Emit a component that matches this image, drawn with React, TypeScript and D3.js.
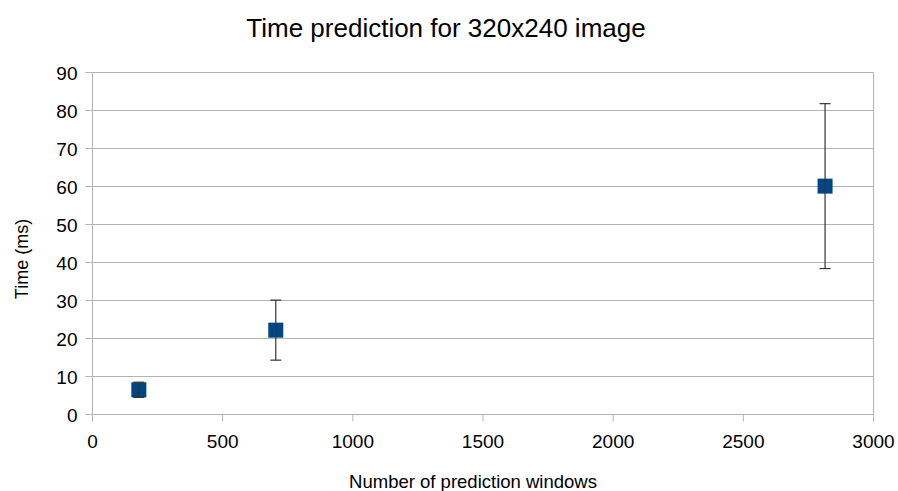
import React from "react";
import * as d3 from "d3";

const xValues = [178, 704, 2814];
const yValues = [6.5, 22.2, 60.1];
const yErrors = [2.0, 7.9, 21.7];
const xTicks = [0, 500, 1000, 1500, 2000, 2500, 3000];
const yTicks = [0, 10, 20, 30, 40, 50, 60, 70, 80, 90];

const W = 898, H = 491;
const left = 92.5, right = 873.5, top = 72.5, bottom = 414.5;

export default function App() {
  const x = d3.scaleLinear().domain([0, 3000]).range([left, right]);
  const y = d3.scaleLinear().domain([0, 90]).range([bottom, top]);
  const font = "'Liberation Sans', Arial, sans-serif";
  const ms = 15;
  return (
    <svg width={W} height={H} style={{ position: "absolute", left: 0, top: 0 }} fontFamily={font}>
      <rect width={W} height={H} fill="#fff" />
      <text x={446} y={36.5} textAnchor="middle" fontSize={26} fill="#000">Time prediction for 320x240 image</text>
      {yTicks.map((t) => (
        <g key={"y" + t}>
          <line x1={left - 7} x2={right} y1={y(t)} y2={y(t)} stroke="#b3b3b3" strokeWidth={1} />
          <text x={77.5} y={y(t) + 7} textAnchor="end" fontSize={19} fill="#000">{t}</text>
        </g>
      ))}
      {xTicks.map((t) => (
        <g key={"x" + t}>
          <line x1={x(t)} x2={x(t)} y1={bottom} y2={bottom + 7} stroke="#b3b3b3" strokeWidth={1} />
          <text x={x(t)} y={447.5} textAnchor="middle" fontSize={19} fill="#000">{t}</text>
        </g>
      ))}
      <line x1={left} x2={left} y1={top} y2={bottom + 7} stroke="#b3b3b3" strokeWidth={1} />
      <line x1={right} x2={right} y1={top} y2={bottom + 7} stroke="#b3b3b3" strokeWidth={1} />
      <text x={473} y={488} textAnchor="middle" fontSize={18.5} fill="#000">Number of prediction windows</text>
      <text transform={`translate(28,${259}) rotate(-90)`} textAnchor="middle" fontSize={18} fill="#000">Time (ms)</text>
      {xValues.map((xv, i) => (
        <g key={"p" + i}>
          <rect x={x(xv) - ms / 2} y={y(yValues[i]) - ms / 2} width={ms} height={ms} fill="#004586" />
        </g>
      ))}
      {xValues.map((xv, i) => {
        const cx = x(xv);
        const y1 = y(yValues[i] + yErrors[i]);
        const y2 = y(yValues[i] - yErrors[i]);
        return (
          <g key={"e" + i} stroke="#333" strokeWidth={1.2}>
            <line x1={cx} x2={cx} y1={y1} y2={y2} />
            <line x1={cx - 5.5} x2={cx + 5.5} y1={y1} y2={y1} />
            <line x1={cx - 5.5} x2={cx + 5.5} y1={y2} y2={y2} />
          </g>
        );
      })}
    </svg>
  );
}
